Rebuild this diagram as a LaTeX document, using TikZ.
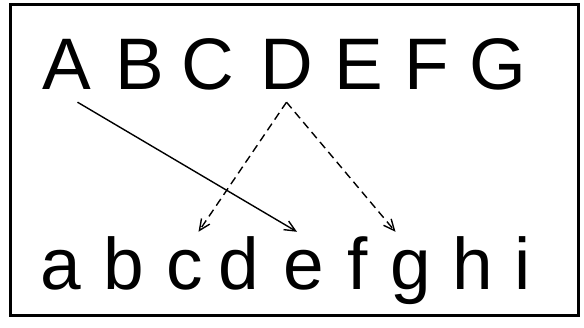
\documentclass[tikz,border=0pt]{standalone}
\usepackage{fontspec}
\setmainfont{Liberation Sans}
\usetikzlibrary{arrows.meta}

\tikzset{
  capital/.style={font=\fontsize{73}{80}\selectfont, anchor=base, inner xsep=0pt, inner ysep=12pt, text depth=0pt},
  small/.style={font=\fontsize{73}{80}\selectfont, anchor=base, inner xsep=0pt, inner ysep=6pt, text height=52pt, text depth=0pt},
  link/.style={line width=1.4pt, -{Straight Barb[length=11pt,width=10pt,line width=1.4pt]}},
  dashlink/.style={link, dash pattern=on 8pt off 5pt}
}

\begin{document}
\begin{tikzpicture}[x=1pt,y=1pt]
\useasboundingbox (0,0) rectangle (584,328);
\draw[line width=3pt] (10,323) rectangle (578,12);

\foreach \n/\x in {A/66.5,B/140,C/208,D/286.5,E/359,F/426.5,G/498}
  \node[capital] (\n) at (\x,238) {\n};

\foreach \n/\x in {a/60.5,b/124,c/184.5,d/238.5,e/304,f/357.5,g/410.5,h/472.5,i/523}
  \node[small] (\n) at (\x,38) {\n};

\draw[link] ([xshift=11pt]A.south) -- ([xshift=-7pt]e.north);
\draw[dashlink] (D.south) -- ([xshift=14pt]c.north);
\draw[dashlink] (D.south) -- ([xshift=-15pt]g.north);

\end{tikzpicture}
\end{document}
